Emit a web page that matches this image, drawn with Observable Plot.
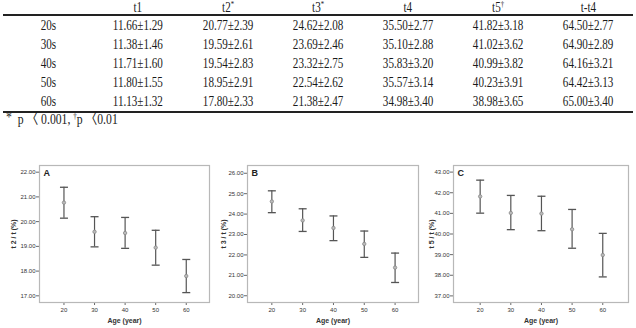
<!DOCTYPE html>
<html><head><meta charset="utf-8">
<script src="https://cdn.jsdelivr.net/npm/d3@7"></script>
<script src="https://cdn.jsdelivr.net/npm/@observablehq/plot@0.6"></script>
<style>
body{margin:0;background:#fff;}
#root{position:relative;width:636px;height:328px;overflow:hidden;background:#fff;}
table{position:absolute;left:3px;top:0;width:630px;border-collapse:collapse;table-layout:fixed;font-family:"Liberation Serif","Noto Sans CJK KR",serif;font-size:15px;color:#1a1a1a;}
td,th{padding:0;text-align:center;font-weight:normal;white-space:nowrap;}
thead th{height:14px;line-height:14px;border-bottom:2px solid #222;}
tbody td{height:19px;line-height:19px;}
tbody tr:last-child td{border-bottom:2px solid #222;}
.c{display:inline-block;transform:scaleX(0.74);}
sup{font-size:9px;vertical-align:5px;line-height:0;}
#foot{position:absolute;left:6px;top:111px;line-height:16px;font-family:"Liberation Serif","Noto Sans CJK KR",serif;font-size:15px;color:#1a1a1a;transform:scaleX(0.78);transform-origin:left center;white-space:nowrap;}
#foot .ast{display:inline-block;transform:translateY(-2px);}
.panel{position:absolute;top:160px;}
</style></head>
<body>
<div id="root">
<table id="tbl"><thead><tr id="hrow"></tr></thead><tbody id="tbody"></tbody></table>
<div id="foot"></div>
<div class="panel" id="pA" style="left:0px"></div>
<div class="panel" id="pB" style="left:212px"></div>
<div class="panel" id="pC" style="left:424px"></div>
</div>
<script>
// ---- table data ----
const groups = ["20s","30s","40s","50s","60s"];
const headers = ["t1","t2","t3","t4","t5","t-t4"];
const headerMarks = ["","*","*","","\u2020",""];
const t1Mean = [11.66,11.38,11.71,11.80,11.13];
const t1Sd   = [1.29,1.46,1.60,1.55,1.32];
const t2Mean = [20.77,19.59,19.54,18.95,17.80];
const t2Sd   = [2.39,2.61,2.83,2.91,2.33];
const t3Mean = [24.62,23.69,23.32,22.54,21.38];
const t3Sd   = [2.08,2.46,2.75,2.62,2.47];
const t4Mean = [35.50,35.10,35.83,35.57,34.98];
const t4Sd   = [2.77,2.88,3.20,3.14,3.40];
const t5Mean = [41.82,41.02,40.99,40.23,38.98];
const t5Sd   = [3.18,3.62,3.82,3.91,3.65];
const ttMean = [64.50,64.90,64.16,64.42,65.00];
const ttSd   = [2.77,2.89,3.21,3.13,3.40];
const footParts = ["*", "\u00a0\u00a0p \u3008 0.001, ", "\u2020", "p \u30080.01"];

// ---- chart data (95% CI) ----
const ages = [20,30,40,50,60];
const t2Lo = [20.14,18.98,18.92,18.24,17.13];
const t2Hi = [21.39,20.20,20.17,19.65,18.47];
const t3Lo = [24.07,23.15,22.70,21.88,20.65];
const t3Hi = [25.14,24.26,23.91,23.17,22.09];
const t5Lo = [41.01,40.21,40.16,39.31,37.92];
const t5Hi = [42.61,41.87,41.83,41.19,40.03];
const ticksA = [17,18,19,20,21,22];
const ticksB = [20,21,22,23,24,25,26];
const ticksC = [37,38,39,40,41,42,43];

// build table
const hrow = document.getElementById("hrow");
const th0 = document.createElement("th"); hrow.appendChild(th0);
headers.forEach((h,i)=>{
  const th=document.createElement("th");
  th.innerHTML = `<span class="c">${h}${headerMarks[i]?`<sup>${headerMarks[i]}</sup>`:""}</span>`;
  hrow.appendChild(th);
});
const cols = [[t1Mean,t1Sd],[t2Mean,t2Sd],[t3Mean,t3Sd],[t4Mean,t4Sd],[t5Mean,t5Sd],[ttMean,ttSd]];
const tbody = document.getElementById("tbody");
groups.forEach((g,r)=>{
  const tr=document.createElement("tr");
  let html = `<td><span class="c">${g}</span></td>`;
  cols.forEach(([m,s])=>{ html += `<td><span class="c">${m[r].toFixed(2)}\u00b1${s[r].toFixed(2)}</span></td>`; });
  tr.innerHTML = html;
  tbody.appendChild(tr);
});
document.getElementById("foot").innerHTML = `<span class="ast">${footParts[0]}</span>${footParts[1]}<sup>${footParts[2]}</sup>${footParts[3]}`;

const cap = {draw(ctx,size){const r=Math.sqrt(size/Math.PI); ctx.moveTo(-r,0); ctx.lineTo(r,0);}};

function panel(el, mean, lo, hi, o){
  const data = ages.map((a,i)=>({age:a, mean:mean[i], lo:lo[i], hi:hi[i]}));
  const p = Plot.plot({
    width:212, height:168, marginLeft:o.ml, marginRight:o.mr, marginTop:5, marginBottom:26,
    style:{fontFamily:"'Liberation Sans', Arial, sans-serif", fontSize:"6px", color:"#333", background:"#fff", overflow:"visible"},
    x:{domain:o.xd, ticks:ages, tickSize:3, tickPadding:2, label:"Age (year)", labelAnchor:"center", labelOffset:20, labelArrow:"none"},
    y:{domain:o.yd, ticks:o.yt, tickSize:3, tickPadding:1, tickFormat:d=>d.toFixed(2), label:o.ylab, labelAnchor:"center", labelOffset:o.lo, labelArrow:"none"},
    marks:[
      Plot.frame({stroke:"#b8b8b8", strokeWidth:1.2}),
      Plot.ruleX(data,{x:"age", y1:"lo", y2:"hi", stroke:"#555", strokeWidth:1.2}),
      Plot.dot(data,{x:"age", y:"lo", symbol:cap, r:4, stroke:"#555", strokeWidth:1.3}),
      Plot.dot(data,{x:"age", y:"hi", symbol:cap, r:4, stroke:"#555", strokeWidth:1.3}),
      Plot.dot(data,{x:"age", y:"mean", r:1.7, stroke:"#888", fill:"#bbb", strokeWidth:0.8}),
      Plot.text([o.letter],{frameAnchor:"top-left", dx:4, dy:4, lineAnchor:"top", textAnchor:"start", fontWeight:"bold", fontSize:9, fill:"#222"})
    ]
  });
  p.querySelectorAll('[aria-label="x-axis label"], [aria-label="y-axis label"]').forEach(g=>{
    g.setAttribute("font-weight","bold"); g.setAttribute("font-size","7"); g.style.fontWeight="bold"; g.style.fontSize="7px";
  });
  p.querySelectorAll('[aria-label="x-axis tick"], [aria-label="y-axis tick"]').forEach(g=>g.setAttribute("stroke","#666"));
  document.getElementById(el).appendChild(p);
}
panel("pA", t2Mean, t2Lo, t2Hi, {ml:39, mr:3, xd:[12,67.6], yd:[16.73,22.27], yt:ticksA, ylab:"t 2 / t (%)", lo:28, letter:"A"});
panel("pB", t3Mean, t3Lo, t3Hi, {ml:35, mr:6, xd:[12.1,67.6], yd:[19.67,26.38], yt:ticksB, ylab:"t 3 / t (%)", lo:26, letter:"B"});
panel("pC", t5Mean, t5Lo, t5Hi, {ml:29, mr:8, xd:[11.3,68.4], yd:[36.68,43.32], yt:ticksC, ylab:"t 5 / t (%)", lo:24, letter:"C"});
</script>
</body></html>
